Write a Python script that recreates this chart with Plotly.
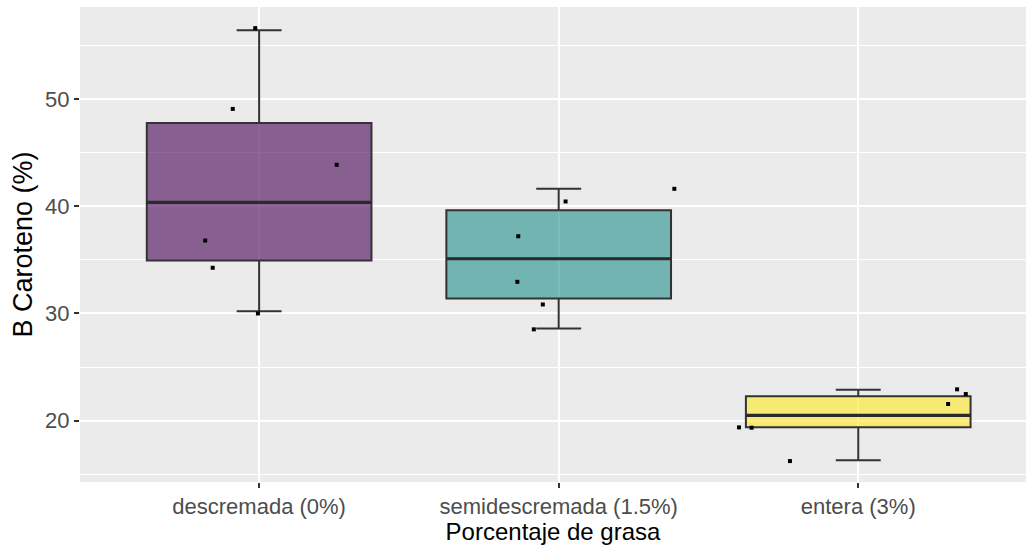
import plotly.graph_objects as go

# ---- data ----
categories = ["descremada (0%)", "semidescremada (1.5%)", "entera (3%)"]
cat_pos = [1, 2, 3]

# box statistics (ggplot type-7 quartiles, whiskers = data extremes)
q1 = [34.95, 31.40, 19.40]
median = [40.35, 35.10, 20.50]
q3 = [47.75, 39.63, 22.28]
lowerfence = [30.20, 28.60, 16.32]
upperfence = [56.40, 41.62, 22.88]

# jittered raw observations (x in category units, y in %)
pts_desc_x = [0.987, 0.912, 1.259, 0.820, 0.845, 0.996]
pts_desc_y = [56.6, 49.07, 43.86, 36.8, 34.26, 30.0]
pts_semi_x = [2.386, 2.023, 1.865, 1.862, 1.947, 1.917]
pts_semi_y = [41.62, 40.44, 37.2, 32.95, 30.84, 28.52]
pts_ent_x = [2.602, 2.644, 2.772, 3.300, 3.330, 3.359]
pts_ent_y = [19.38, 19.35, 16.24, 21.56, 22.93, 22.49]

fills = ["rgba(68,1,84,0.6)", "rgba(33,144,140,0.6)", "rgba(253,231,37,0.6)"]
box_width = 0.75

fig = go.Figure()

for i in range(3):
    fig.add_trace(go.Box(
        x=[cat_pos[i]],
        q1=[q1[i]], median=[median[i]], q3=[q3[i]],
        lowerfence=[lowerfence[i]], upperfence=[upperfence[i]],
        width=box_width, whiskerwidth=0.2,
        fillcolor=fills[i],
        line=dict(color="#333333", width=2),
        boxpoints=False, hoverinfo="skip", showlegend=False,
    ))
    # thicker median bar, as ggplot draws it
    fig.add_trace(go.Scatter(
        x=[cat_pos[i] - box_width / 2, cat_pos[i] + box_width / 2],
        y=[median[i], median[i]], mode="lines",
        line=dict(color="#2b2b2b", width=3.2),
        showlegend=False, hoverinfo="skip",
    ))

for xs, ys in [(pts_desc_x, pts_desc_y), (pts_semi_x, pts_semi_y), (pts_ent_x, pts_ent_y)]:
    fig.add_trace(go.Scatter(
        x=xs, y=ys, mode="markers",
        marker=dict(color="black", size=4, symbol="square"),
        showlegend=False, hoverinfo="skip",
    ))

font_family = "Liberation Sans, Arial, sans-serif"

fig.update_layout(
    width=1026, height=545,
    margin=dict(l=80, r=0, t=7, b=63),
    paper_bgcolor="white",
    plot_bgcolor="#EBEBEB",
    boxmode="overlay",
    font=dict(family=font_family),
    xaxis=dict(
        range=[0.402, 3.56],
        tickmode="array", tickvals=cat_pos, ticktext=categories,
        showgrid=True, gridcolor="white", gridwidth=2,
        zeroline=False, showline=False,
        ticks="outside", ticklen=5, tickwidth=1.5, tickcolor="#333333",
        tickfont=dict(size=22, color="#4D4D4D", family=font_family),
        title=dict(text="Porcentaje de grasa", standoff=2,
                   font=dict(size=24, color="black", family=font_family)),
        automargin=False,
    ),
    yaxis=dict(
        range=[14.29, 58.57],
        tickmode="array", tickvals=[20, 30, 40, 50],
        showgrid=True, gridcolor="white", gridwidth=2,
        minor=dict(tickmode="array", tickvals=[15, 25, 35, 45, 55],
                   showgrid=True, gridcolor="white", gridwidth=1, ticks=""),
        zeroline=False, showline=False,
        ticks="outside", ticklen=5, tickwidth=1.5, tickcolor="#333333",
        tickfont=dict(size=22, color="#4D4D4D", family=font_family),
        title=dict(text="B Caroteno (%)", standoff=4,
                   font=dict(size=27, color="black", family=font_family)),
        automargin=False,
    ),
)

fig.write_html(
    "out.html",
    config={"displayModeBar": False},
    post_script="document.body.style.margin='0px';document.body.style.padding='0px';",
)
